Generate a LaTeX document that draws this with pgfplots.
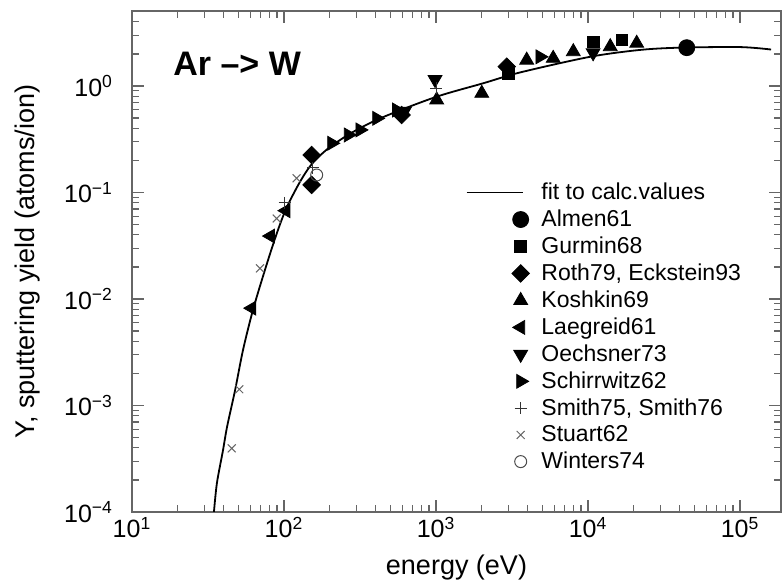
\documentclass[border=0pt]{standalone}
\usepackage{fontspec}
\setmainfont{Liberation Sans}
\usepackage{pgfplots}
\pgfplotsset{compat=1.18}

\pgfplotsset{
  marklegend/.style={legend image code/.code={
    \path[draw=none, fill=none] (-28pt,-4pt) rectangle (4pt,4pt);
    \draw[##1] plot coordinates {(0pt,0pt)};}},
  linelegend/.style={legend image code/.code={
    \path[draw=none, fill=none] (-28pt,-4pt) rectangle (4pt,4pt);
    \draw[##1] (-27pt,0pt) -- (1pt,0pt);}},
}

\begin{document}
\begin{tikzpicture}
\begin{axis}[
  scale only axis, width=324.5pt, height=250.5pt,
  xmode=log, ymode=log,
  xmin=10, xmax=1.86e5, ymin=1e-4, ymax=5.06,
  tick align=inside,
  axis line style={black!60, line width=0.6pt},
  every tick/.style={black!60, line width=0.6pt},
  major tick length=6pt, minor tick length=3.5pt,
  xtick={10,100,1000,10000,100000},
  xticklabels={10\textsuperscript{1},10\textsuperscript{2},10\textsuperscript{3},10\textsuperscript{4},10\textsuperscript{5}},
  minor xtick={20,30,40,50,60,70,80,90,200,300,400,500,600,700,800,900,
    2000,3000,4000,5000,6000,7000,8000,9000,20000,30000,40000,50000,60000,70000,80000,90000},
  ytick={1e-4,1e-3,1e-2,1e-1,1},
  yticklabels={10\textsuperscript{−4},10\textsuperscript{−3},10\textsuperscript{−2},10\textsuperscript{−1},10\textsuperscript{0}},
  minor ytick={2e-4,3e-4,4e-4,5e-4,6e-4,7e-4,8e-4,9e-4,2e-3,3e-3,4e-3,5e-3,6e-3,7e-3,8e-3,9e-3,
    2e-2,3e-2,4e-2,5e-2,6e-2,7e-2,8e-2,9e-2,0.2,0.3,0.4,0.5,0.6,0.7,0.8,0.9,2,3,4,5},
  ticklabel style={font=\fontsize{12.5}{13}\selectfont},
  yticklabel style={xshift=-6pt},
  xticklabel style={yshift=1pt},
  xlabel={energy (eV)},
  ylabel={Y, sputtering yield (atoms/ion)},
  label style={font=\fontsize{13.5}{14}\selectfont},
  xlabel style={at={(axis description cs:0.5,0)}, anchor=base, yshift=-31.5pt},
  ylabel style={at={(axis description cs:-0.1497,0.5)}, anchor=base, rotate=0},
  legend style={at={(rel axis cs:0.512,0.666)}, anchor=north west, draw=none, fill=none,
    inner sep=0pt, font=\fontsize{11.5}{13}\selectfont, row sep=-0.35pt, column sep=4pt},
  legend cell align=left,
  mark size=3.6pt,
]
% fit curve
\addplot[black, line width=0.9pt, smooth, linelegend] coordinates {
 (34.6,1e-4) (36.2,1.87e-4) (39.7,3.8e-4) (42.2,6.3e-4) (47.7,1.4e-3) (53.7,3.3e-3)
 (62.5,7.9e-3) (76,0.02) (90,0.042) (104,0.072) (127,0.125) (150,0.18) (180,0.235)
 (210,0.28) (284,0.37) (448,0.51) (1000,0.79) (2040,1.06) (3570,1.34) (10300,1.88)
 (21900,2.18) (40000,2.29) (100000,2.32) (160000,2.2)};
\addlegendentry{fit to calc.values}
% Almen61
\addplot[only marks, mark=*, black, mark size=4pt, marklegend] coordinates {(44600,2.29)};
\addlegendentry{Almen61}
% Gurmin68
\addplot[only marks, mark=square*, black, mark size=2.9pt, marklegend] coordinates {
 (3000,1.30) (10800,2.6) (16700,2.7)};
\addlegendentry{Gurmin68}
% Roth79, Eckstein93
\addplot[only marks, mark=square*, black, mark size=3.1pt, mark options={rotate=45}, marklegend] coordinates {
 (152,0.225) (152,0.118) (594,0.534) (2920,1.52)};
\addlegendentry{Roth79, Eckstein93}
% Koshkin69
\addplot[only marks, mark=triangle*, black, mark size=4pt, marklegend] coordinates {
 (1010,0.74) (2000,0.854) (3950,1.75) (5900,1.82) (8000,2.1) (14000,2.34) (20900,2.52)};
\addlegendentry{Koshkin69}
% Laegreid61
\addplot[only marks, mark=triangle*, black, mark size=4pt, mark options={rotate=90}, marklegend] coordinates {
 (61.4,8.2e-3) (81.6,0.039) (103,0.0675)};
\addlegendentry{Laegreid61}
% Oechsner73
\addplot[only marks, mark=triangle*, black, mark size=4pt, mark options={rotate=180}, marklegend] coordinates {
 (985,1.15) (620,0.58) (10800,2.05)};
\addlegendentry{Oechsner73}
% Schirrwitz62
\addplot[only marks, mark=triangle*, black, mark size=4pt, mark options={rotate=-90}, marklegend] coordinates {
 (206,0.29) (265,0.347) (316,0.387) (407,0.497) (550,0.595) (4830,1.88)};
\addlegendentry{Schirrwitz62}
% Smith75, Smith76
\addplot[only marks, mark=+, black!80, mark size=3pt, line width=0.5pt, marklegend] coordinates {
 (101,0.08) (155,0.17) (1000,0.95)};
\addlegendentry{Smith75, Smith76}
% Stuart62
\addplot[only marks, mark=x, black!60, mark size=2.8pt, line width=0.5pt, marklegend] coordinates {
 (45.3,3.96e-4) (50.8,1.42e-3) (69.5,0.0194) (89.5,0.057) (121,0.136)};
\addlegendentry{Stuart62}
% Winters74
\addplot[only marks, mark=o, black!70, mark size=3pt, line width=0.5pt, marklegend] coordinates {
 (164,0.146)};
\addlegendentry{Winters74}

\node[font=\bfseries\fontsize{17}{17}\selectfont] at (rel axis cs:0.162,0.895) {Ar –> W};
\coordinate (bl) at (rel axis cs:0,0);
\coordinate (tr) at (rel axis cs:1,1);
\end{axis}
\pgfresetboundingbox
\useasboundingbox (bl) ++(-66pt,-36pt) rectangle ([xshift=0.5pt,yshift=5.5pt]tr);
\end{tikzpicture}
\end{document}
